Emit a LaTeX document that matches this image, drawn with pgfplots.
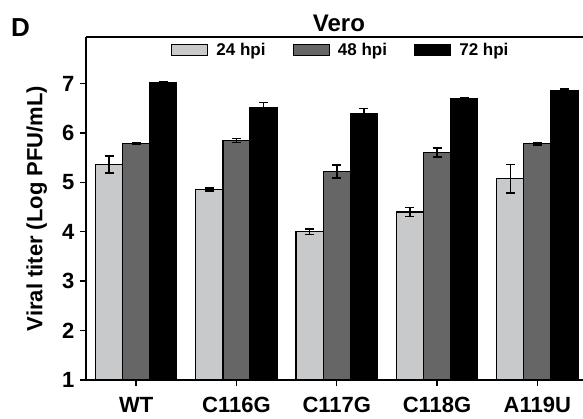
\documentclass[border=0pt]{standalone}
\usepackage{pgfplots}
\pgfplotsset{compat=1.18}
\usepackage{fontspec}
\setmainfont{Liberation Sans}

\definecolor{light}{HTML}{C8C9CB}
\definecolor{mid}{HTML}{666667}

\begin{document}
\begin{tikzpicture}
\begin{axis}[
  scale only axis,
  width=497pt, height=343pt,
  xmin=-0.5, xmax=4.455,
  ymin=1, ymax=7.94,
  ybar=0pt, bar width=0.27,
  axis x line*=bottom, axis y line*=left,
  axis line style={line width=1.4pt, -},
  tick align=outside, major tick length=6pt,
  tick style={line width=1.4pt, black},
  xtick={0,1,2,3,4},
  xticklabels={WT, C116G, C117G, C118G, A119U},
  ytick={1,2,3,4,5,6,7},
  /pgf/number format/assume math mode=true,
  tick label style={font=\fontsize{22}{22}\selectfont\bfseries},
  xticklabel style={yshift=-8pt},
  yticklabel style={xshift=-2pt},
  ylabel={Viral titer (Log PFU/mL)},
  every axis y label/.style={at={(axis description cs:-0.099,0.5)}, rotate=90, anchor=center,
    font=\fontsize{22}{22}\selectfont\bfseries},
  title={Vero},
  every axis title/.style={at={(axis description cs:0.509,1.0146)}, anchor=base,
    font=\fontsize{24}{24}\selectfont\bfseries},
  legend columns=3,
  legend cell align=left,
  legend style={at={(axis description cs:0.171,0.962)}, anchor=west, draw=none, fill=none,
    inner sep=0pt, font=\fontsize{17}{17}\selectfont\bfseries,
    nodes={inner sep=0pt},
    /tikz/every odd column/.append style={column sep=8pt},
    /tikz/every even column/.append style={column sep=27pt}},
  legend image code/.code={\draw[#1, line width=1.3pt] (0pt,-5.5pt) rectangle (36pt,5.5pt);},
  every axis plot/.append style={draw=black, line width=1.3pt},
  error bars/y dir=both, error bars/y explicit,
  error bars/error bar style={line width=1.5pt, black},
  error bars/error mark options={rotate=90, mark size=4.5pt, line width=1.5pt, black},
]
\addplot[fill=light] coordinates {
  (0,5.36) +- (0,0.17)
  (1,4.85) +- (0,0.03)
  (2,4.00) +- (0,0.06)
  (3,4.40) +- (0,0.09)
  (4,5.07) +- (0,0.29)
};
\addplot[fill=mid] coordinates {
  (0,5.78) +- (0,0.02)
  (1,5.85) +- (0,0.04)
  (2,5.22) +- (0,0.13)
  (3,5.60) +- (0,0.09)
  (4,5.78) +- (0,0.03)
};
\addplot[fill=black] coordinates {
  (0,7.01) +- (0,0.02)
  (1,6.51) +- (0,0.10)
  (2,6.38) +- (0,0.11)
  (3,6.70) +- (0,0.02)
  (4,6.86) +- (0,0.03)
};
\legend{24 hpi, 48 hpi, 72 hpi}
\coordinate (tl) at (rel axis cs:0,1);
\coordinate (tr) at (rel axis cs:1,1);
\coordinate (bl) at (rel axis cs:0,0);
\end{axis}
\draw[line width=1.4pt] (tl) -- (tr);
\node[anchor=base west, inner sep=0pt, font=\fontsize{26}{26}\selectfont\bfseries] at ([xshift=-75pt]tl) {D};
\pgfresetboundingbox
\path[use as bounding box] ([xshift=-86pt,yshift=-39pt]bl) rectangle ([yshift=37pt]tr);
\end{tikzpicture}
\end{document}
